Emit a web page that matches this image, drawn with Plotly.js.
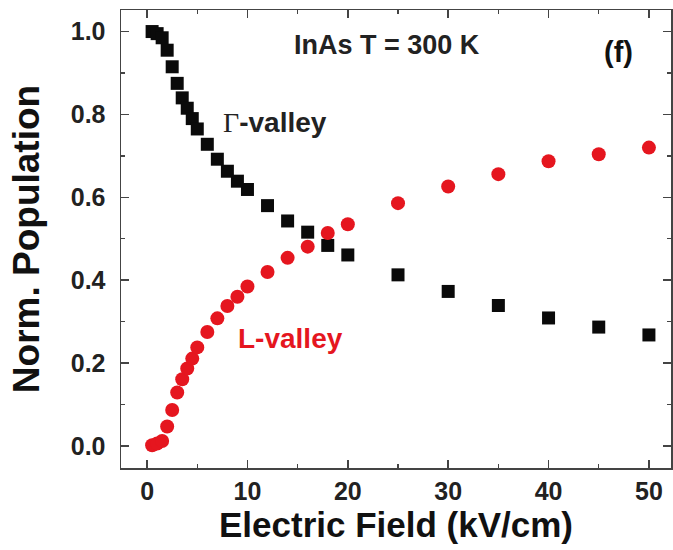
<!DOCTYPE html>
<html>
<head>
<meta charset="utf-8">
<script src="https://cdn.plot.ly/plotly-3.0.1.min.js"></script>
<style>html,body{margin:0;padding:0;background:#fff;}#chart{width:673px;height:550px;}</style>
</head>
<body>
<div id="chart"></div>
<script>
const fieldGamma = [0.5,1,1.5,2,2.5,3,3.5,4,4.5,5,6,7,8,9,10,12,14,16,18,20,25,30,35,40,45,50];
const popGamma   = [1.0,0.995,0.985,0.955,0.915,0.875,0.84,0.815,0.79,0.765,0.728,0.692,0.663,0.639,0.619,0.58,0.543,0.516,0.484,0.461,0.413,0.373,0.339,0.309,0.287,0.268];
const fieldL = [0.5,1,1.5,2,2.5,3,3.5,4,4.5,5,6,7,8,9,10,12,14,16,18,20,25,30,35,40,45,50];
const popL   = [0.002,0.006,0.012,0.047,0.087,0.129,0.161,0.187,0.211,0.238,0.275,0.308,0.338,0.36,0.385,0.42,0.454,0.481,0.514,0.535,0.586,0.626,0.656,0.687,0.704,0.72];
const xTicks = [0,10,20,30,40,50];
const yTicks = [0.0,0.2,0.4,0.6,0.8,1.0];
const yTickText = ["0.0","0.2","0.4","0.6","0.8","1.0"];

const red = "#e5161f";
const font = "Liberation Sans, Arial, sans-serif";

const traces = [
  {x: fieldGamma, y: popGamma, type: "scatter", mode: "markers", name: "Γ-valley",
   marker: {symbol: "square", size: 13, color: "#0a0a0a"}},
  {x: fieldL, y: popL, type: "scatter", mode: "markers", name: "L-valley",
   marker: {symbol: "circle", size: 14, color: red}}
];

const axisCommon = {
  showline: true, linecolor: "#444", linewidth: 1.5, mirror: "ticks",
  ticks: "inside", ticklen: 8, tickwidth: 1.5, tickcolor: "#444",
  showgrid: false, zeroline: false,
  tickfont: {family: font, size: 25, color: "#222", weight: "bold"}
};

const layout = {
  width: 673, height: 550,
  margin: {l: 121, r: 2, t: 10, b: 82},
  paper_bgcolor: "#fff", plot_bgcolor: "#fff",
  showlegend: false,
  xaxis: Object.assign({}, axisCommon, {
    range: [-2.6, 52.2], tickvals: xTicks, ticktext: xTicks.map(String),
    ticklabelstandoff: 0,
    minor: {ticks: "inside", ticklen: 4, tickwidth: 1.2, tickcolor: "#444", dtick: 5, tick0: 0},
    title: {text: "Electric Field (kV/cm)", font: {family: font, size: 35, color: "#111", weight: "bold"}, standoff: 2}
  }),
  yaxis: Object.assign({}, axisCommon, {
    range: [-0.053, 1.052], tickvals: yTicks, ticktext: yTickText,
    ticklabelstandoff: 9,
    minor: {ticks: "inside", ticklen: 4, tickwidth: 1.2, tickcolor: "#444", dtick: 0.1, tick0: 0},
    title: {text: "Norm. Population", font: {family: font, size: 37, color: "#111", weight: "bold"}, standoff: 20}
  }),
  annotations: [
    {x: 387, y: 45, text: "InAs T = 300 K", showarrow: false,
     font: {family: font, size: 27, color: "#222", weight: "bold"}},
    {x: 618, y: 52, text: "(f)", showarrow: false,
     font: {family: font, size: 29, color: "#111", weight: "bold"}},
    {x: 275, y: 122, text: "<span style=\"font-family:'Liberation Serif',serif;font-weight:normal\">Γ</span>-valley", showarrow: false,
     font: {family: font, size: 28, color: "#222", weight: "bold"}},
    {x: 290, y: 338, text: "L-valley", showarrow: false,
     font: {family: font, size: 28, color: red, weight: "bold"}}
  ]
};

// position annotations in paper coordinates of the plot area
const plotL = 121, plotT = 10, plotW = 673 - 121 - 2, plotH = 550 - 10 - 82;
layout.annotations.forEach(a => {
  a.xref = "paper"; a.yref = "paper";
  a.x = (a.x - plotL) / plotW;
  a.y = 1 - (a.y - plotT) / plotH;
  a.xanchor = "center"; a.yanchor = "middle";
});

Plotly.newPlot("chart", traces, layout, {displayModeBar: false, staticPlot: true});
</script>
</body>
</html>
